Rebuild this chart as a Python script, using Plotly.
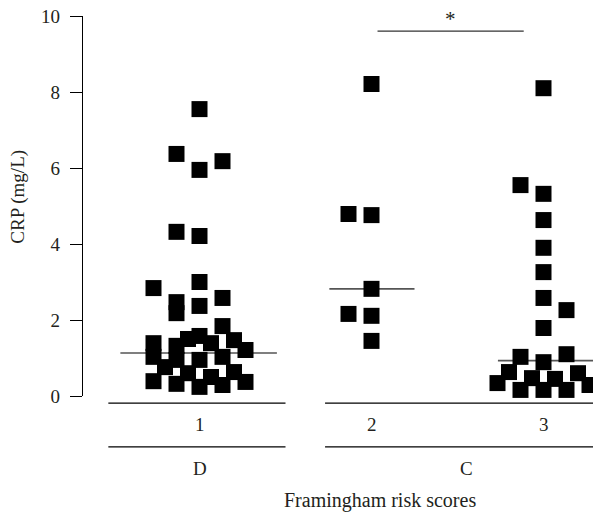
import plotly.graph_objects as go

# ---- data ----
group_labels = ["1", "2", "3"]
class_labels = ["D", "C"]
g1_values = [7.55, 6.37, 5.95, 6.18, 4.32, 4.21, 2.84, 3.0, 2.47, 2.18, 2.37, 2.58, 1.84,
             1.39, 1.03, 1.32, 0.95, 1.50, 1.58, 1.39, 1.47, 1.21, 1.03, 0.95, 0.76,
             0.60, 0.50, 0.63, 0.39, 0.32, 0.24, 0.29, 0.37]
g1_cols = [0, -2, 0, 2, -2, 0, -4, 0, -2, -2, 0, 2, 2,
           -4, -4, -2, -2, -1, 0, 1, 3, 4, 2, 0, -3,
           -1, 1, 3, -4, -2, 0, 2, 4]
g2_values = [8.21, 4.79, 4.76, 2.82, 2.16, 2.11, 1.45]
g2_cols = [0, -2, 0, 0, -2, 0, 0]
g3_values = [8.10, 5.55, 5.32, 4.63, 3.90, 3.26, 2.58, 2.26, 1.79, 1.03, 0.89, 1.10,
             0.63, 0.34, 0.47, 0.16, 0.45, 0.16, 0.16, 0.60, 0.29]
g3_cols = [0, -2, 0, 0, 0, 0, 0, 2, 0, -2, 0, 2,
           -3, -4, -1, -2, 1, 0, 2, 3, 4]
medians = [1.13, 2.82, 0.93]
sig_text = "*"
y_title = "CRP (mg/L)"
x_title = "Framingham risk scores"

# ---- style ----
STEP = 11.5 / 172.0
FONT = "Liberation Serif, DejaVu Serif, serif"
TXT = "#231f20"

fig = go.Figure()
for gi, (vals, cols) in enumerate([(g1_values, g1_cols), (g2_values, g2_cols), (g3_values, g3_cols)]):
    xs = [gi + 1 + c * STEP for c in cols]
    fig.add_trace(go.Scatter(
        x=xs, y=vals, mode="markers", cliponaxis=False, showlegend=False,
        marker=dict(symbol="square", size=16, color="black", line=dict(width=0)),
    ))

# median lines (half-widths in group units)
med_extent = [(-0.46, 0.45), (-0.245, 0.25), (-0.265, 0.30)]
for gi, (m, (a, b)) in enumerate(zip(medians, med_extent)):
    fig.add_shape(type="line", x0=gi + 1 + a, x1=gi + 1 + b, y0=m, y1=m,
                  line=dict(color="#555", width=1.6), layer="below")

# significance bracket
fig.add_shape(type="line", x0=2.035, x1=2.885, y0=9.6, y1=9.6, line=dict(color="#333", width=1.3))
fig.add_annotation(x=2.46, y=9.93, text=sig_text, showarrow=False, yanchor="middle",
                   font=dict(family=FONT, size=21, color=TXT))

# bottom category lines
for py in [-0.019, -0.134]:
    fig.add_shape(type="line", xref="x", yref="paper", x0=0.47, x1=1.5, y0=py, y1=py,
                  line=dict(color="black", width=1.2))
    fig.add_shape(type="line", xref="x", yref="paper", x0=1.73, x1=3.3, y0=py, y1=py,
                  line=dict(color="black", width=1.2))

def label(x, y, text, size, xref="x"):
    fig.add_annotation(x=x, xref=xref, y=y, yref="paper", text=text, showarrow=False,
                       xanchor="center", yanchor="middle",
                       font=dict(family=FONT, size=size, color=TXT))

for gi, lab in enumerate(group_labels):
    label(gi + 1 + 0.005, -0.076, lab, 19)
label(1.0, -0.19, class_labels[0], 19)
label(2.555, -0.19, class_labels[1], 19)
label(2.05, -0.274, x_title, 20)
fig.add_annotation(x=-0.129, xref="paper", y=5.25, yref="y", text=y_title, textangle=-90,
                   showarrow=False, xanchor="center", yanchor="middle",
                   font=dict(family=FONT, size=19, color=TXT))

fig.update_layout(
    width=593, height=512,
    margin=dict(l=83, r=0, t=16, b=116),
    plot_bgcolor="white", paper_bgcolor="white",
    xaxis=dict(range=[0.3227, 3.2878], visible=False, fixedrange=True),
    yaxis=dict(range=[0, 10], tickvals=[0, 2, 4, 6, 8, 10], showline=True,
               linecolor="black", linewidth=1.2, ticks="outside", ticklen=12,
               tickwidth=1.2, tickcolor="black", showgrid=False, zeroline=False,
               tickfont=dict(family=FONT, size=19, color=TXT), ticklabelstandoff=6),
)

fig.write_html("out.html")
